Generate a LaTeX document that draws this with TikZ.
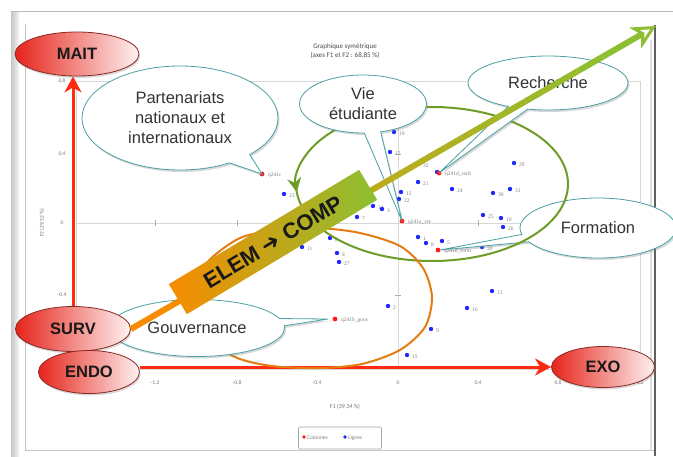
\documentclass[tikz,border=0pt]{standalone}
\usepackage{fontspec}
\setmainfont{Liberation Sans}
\newfontfamily\chartfont{Carlito}
\newfontfamily\labelfont{Liberation Serif}
\newfontfamily\symfont{DejaVu Sans}
\usepackage{tikz}
\usetikzlibrary{calc,positioning,shapes.geometric,shapes.callouts,shadows,arrows.meta}
\pgfdeclarelayer{background}
\pgfsetlayers{background,main}

\definecolor{nodered}{RGB}{230,36,26}
\definecolor{noderim}{RGB}{140,40,34}
\definecolor{arrowred}{RGB}{255,42,16}
\definecolor{bubbleteal}{RGB}{74,160,164}
\definecolor{loopgreen}{RGB}{110,156,38}
\definecolor{looporange}{RGB}{228,124,18}
\definecolor{bannerorange}{RGB}{247,140,0}
\definecolor{bannergold}{RGB}{204,165,20}
\definecolor{bannergreen}{RGB}{140,192,50}
\definecolor{ptblue}{RGB}{30,40,255}
\definecolor{ptred}{RGB}{255,30,30}
\definecolor{chartgray}{RGB}{215,215,215}
\definecolor{textgray}{RGB}{51,51,51}

\begin{document}
\begin{tikzpicture}[x=1pt,y=-1pt,
  pole/.style={ellipse,draw=noderim,line width=0.8pt,left color=nodered,middle color=nodered!85!white,right color=nodered!6!white,
    font=\fontsize{16.5}{18}\selectfont\bfseries,text=black!90,drop shadow={opacity=0.3,shadow xshift=1pt,shadow yshift=-2pt}},
  bubble/.style={ellipse callout,draw=bubbleteal,line width=0.8pt,fill=white,text=textgray,align=center,
    font=\fontsize{16.5}{20}\selectfont,drop shadow={opacity=0.3,shadow xshift=1.5pt,shadow yshift=-2pt}},
  redarrow/.style={arrowred,line width=3pt,-{Stealth[length=16pt,width=17pt,inset=5pt]}},
  loop/.style={loopgreen,line width=2pt},
  ticklab/.style={font=\chartfont\fontsize{5.5}{6}\selectfont,text=black!55,inner sep=1pt},
  ptlab/.style={font=\labelfont\fontsize{5.5}{6}\selectfont,text=black!50,anchor=west,inner sep=1pt}
]
\useasboundingbox (0,0) rectangle (673,456);

\begin{pgfonlayer}{background}
\fill[white] (0,0) rectangle (673,456);
\shade[left color=gray!45,right color=gray!8] (11,11) rectangle (19,456);
\draw[gray!55] (11,11) -- (673,11);
\draw[gray!45] (25,24) -- (25,450) -- (655,450);
\draw[gray!25,line width=2pt] (651,40) -- (651,450);
\draw[gray!75!black,line width=1.6pt] (655,25) -- (655,456);

% the chart
\node[font=\chartfont\fontsize{7}{9}\selectfont,text=black!70,align=center] (title) at (345,51) {Graphique symétrique\\(axes F1 et F2 : 68,85 \%)};
\draw[chartgray] (76,81) rectangle (640,369);
\draw[chartgray] (76,223) -- (640,223);
\draw[chartgray] (398,81) -- (398,369);
\foreach \x in {155,237,317,478,558} \draw[chartgray!80!black] (\x,220) -- (\x,226);
\foreach \y in {154,295} \draw[chartgray!80!black] (395,\y) -- (401,\y);
\foreach \y/\t [count=\i] in {81/{0,8},154/{0,4},223/0,295/{-0,4}}
  \node[ticklab] (ty\i) at (62,\y) {\t};
\foreach \x/\t [count=\i] in {155/{-1,2},237/{-0,8},317/{-0,4},398/0,478/{0,4},558/{0,8},640/{1,2}}
  \node[ticklab] (tx\i) at (\x,383) {\t};
\node[ticklab,rotate=90] (f2) at (42,223) {F2 (29,52 \%)};
\node[ticklab,font=\chartfont\fontsize{6}{7}\selectfont] (f1) at (345,407) {F1 (39,34 \%)};

\node[draw=gray!70,line width=0.6pt,rounded corners=1pt,minimum width=83pt,minimum height=22pt] (legend) at (340,438) {};
\fill[ptred] (304,437) circle (1.8);
\node[ptlab,font=\chartfont\fontsize{5.5}{6}\selectfont] (lcol) at (306,438) {Colonnes};
\fill[ptblue] (345,437) circle (1.8);
\node[ptlab,font=\chartfont\fontsize{5.5}{6}\selectfont] (llig) at (347,438) {Lignes};

\foreach \px/\py/\pl [count=\i] in {394/132/19,390/152/17,418/182/21,452/189/24,514/163/29,493/193/30,510/189/31,
  401/192/12,399/199/22,373/206/14,382/209/3,357/217/7,483/215/25,501/218/10,503/227/26,418/237/1,426/243/8,
  442/241/5,482/247/20,284/194/23,302/247/11,330/238/6,337/253/4,339/262/27,492/291/13,467/308/16,388/306/2,
  431/329/9,407/355/15}{
  \fill[ptblue] (\px,\py) circle (2.2);
  \node[ptlab] (b\i) at ($(\px,\py)+(4,2)$) {\pl};
}
\fill[ptblue] (437,172) circle (2.2);
\node[ptlab] (b32) at (422,166) {32};
\foreach \px/\py/\pl [count=\i] in {262/174/q241c,402/221/q241a\_vie,439/173/q241d\_rech,438/250/q241e\_form,335/319/q241b\_gouv}{
  \fill[ptred] (\px,\py) circle (2.4);
  \node[ptlab] (r\i) at ($(\px,\py)+(5,1)$) {\pl};
}
\end{pgfonlayer}

\node[bubble,minimum width=156pt,minimum height=60pt,callout absolute pointer={(440,250)}] (formation) at (598,228) {Formation};
\draw[loop,-{Stealth[length=14pt,width=14pt]}] (568,184) arc[start angle=0,end angle=-186,x radius=136,y radius=77];
\draw[loop] (296,184) arc[start angle=180,end angle=0,x radius=136,y radius=77];
\draw[looporange,line width=2pt] plot[smooth cycle] coordinates {(240,238) (280,230) (318,228) (360,233) (400,246) (423,268) (432,297)
  (425,327) (400,350) (362,364) (320,368) (272,366) (235,357) (205,335) (195,300) (205,265)};

\node[bubble,minimum width=196pt,minimum height=104pt,callout absolute pointer={(262,174)}] (partenariats) at (180,118) {Partenariats\\nationaux et\\internationaux};
\node[bubble,minimum width=127pt,minimum height=58pt,callout absolute pointer={(402,221)}] (vie) at (363,104) {Vie\\étudiante};
\node[bubble,minimum width=160pt,minimum height=54pt,callout absolute pointer={(439,173)}] (recherche) at (548,83) {Recherche};
\node[bubble,minimum width=175pt,minimum height=57pt,callout absolute pointer={(328,319)}] (gouvernance) at (197,328) {Gouvernance};

\node[pole,minimum width=124pt,minimum height=44pt] (mait) at (77,54) {MAIT};
\node[pole,minimum width=115pt,minimum height=45pt] (surv) at (73,329) {SURV};
\node[pole,minimum width=101pt,minimum height=43pt] (endo) at (89,372) {ENDO};
\node[pole,minimum width=103pt,minimum height=41pt] (exo) at (603,367) {EXO};

% big arrow from SURV
\coordinate (tip) at (656,26);
\draw[bannerorange,line width=6pt] (surv.east) -- ($(surv.east)!0.3!(tip)$);
\foreach \i in {0,...,12}{
  \pgfmathsetmacro\mix{100-\i*100/12}
  \pgfmathsetmacro\pa{0.3+\i*0.05}
  \pgfmathsetmacro\pb{0.35+\i*0.05}
  \draw[bannergold!\mix!bannergreen,line width=6pt] ($(surv.east)!\pa!(tip)$) -- ($(surv.east)!\pb!(tip)$);
}
\draw[bannergreen,line width=6pt,-{Stealth[open,length=24pt,width=24pt,inset=7pt,line width=3pt]}] ($(surv.east)!0.95!(tip)$) -- (tip);

\node[rotate=31,minimum width=222pt,minimum height=35pt,left color=bannerorange,middle color=bannergold,right color=bannergreen,
  font=\fontsize{22}{24}\selectfont\bfseries,text=black!90] (banner) at (273,242) {ELEM {\symfont\fontsize{22}{24}\selectfont ➜} COMP};

\begin{pgfonlayer}{background}
\draw[redarrow] (surv.north) -- (surv.north |- mait.south);
\draw[redarrow] (endo.east |- exo.west) -- (exo.west);
\end{pgfonlayer}
\end{tikzpicture}
\end{document}
